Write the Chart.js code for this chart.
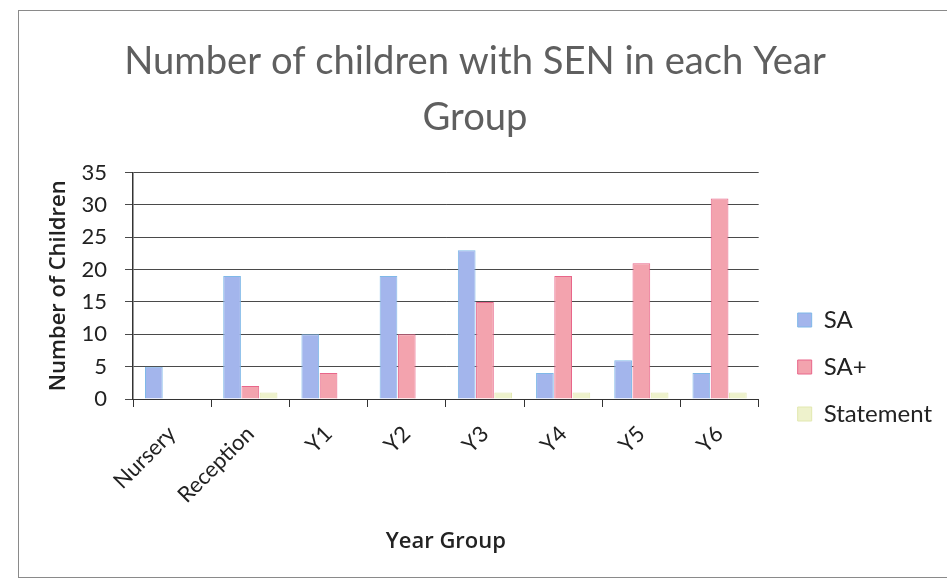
<!DOCTYPE html>
<html>
<head>
<meta charset="utf-8">
<script src="https://cdn.jsdelivr.net/npm/chart.js@4"></script>
<style>
  html, body { margin: 0; padding: 0; background: #ffffff; }
  #wrap { position: relative; width: 947px; height: 586px; }
  #frame { position: absolute; left: 18px; top: 10px; width: 940px; height: 568px; border: 1px solid #8a8a8a; box-sizing: border-box; }
  canvas { position: absolute; left: 0; top: 0; }
</style>
</head>
<body>
<div id="wrap">
  <div id="frame"></div>
  <canvas id="c" width="947" height="586"></canvas>
</div>
<script>
const categories = ['Nursery', 'Reception', 'Y1', 'Y2', 'Y3', 'Y4', 'Y5', 'Y6'];
const saValues = [5, 19, 10, 19, 23, 4, 6, 4];
const saPlusValues = [0, 2, 4, 10, 15, 19, 21, 31];
const statementValues = [0, 1, 0, 0, 1, 1, 1, 1];
const seriesNames = ['SA', 'SA+', 'Statement'];
const titleLines = ['Number of children with SEN in each Year', 'Group'];
const yTitle = 'Number of Children';
const xTitle = 'Year Group';

const FONT = 'Lato, "Open Sans", sans-serif';
const AXIS_FONT = '"Open Sans", Lato, sans-serif';

new Chart(document.getElementById('c'), {
  type: 'bar',
  data: {
    labels: categories,
    datasets: [
      { label: seriesNames[0], data: saValues, backgroundColor: '#a3b5ec', borderColor: '#7fb8e8', borderWidth: 1 },
      { label: seriesNames[1], data: saPlusValues, backgroundColor: '#f3a3ae', borderColor: '#e8668a', borderWidth: 1 },
      { label: seriesNames[2], data: statementValues, backgroundColor: '#eef2cc', borderColor: '#e2e8b0', borderWidth: 1 }
    ]
  },
  options: {
    responsive: false,
    animation: false,
    datasets: { bar: { categoryPercentage: 0.7, barPercentage: 0.97 } },
    layout: { padding: { left: 8, right: 5, top: 24, bottom: 31 } },
    plugins: {
      title: {
        display: true,
        text: titleLines,
        color: '#5f5f5f',
        font: { family: FONT, size: 38.2, weight: 'normal', lineHeight: 1.46 },
        padding: { top: 10, bottom: 27 }
      },
      legend: {
        position: 'right',
        title: { display: true, text: ' ', padding: { top: 143, bottom: 0 }, font: { size: 10 } },
        labels: {
          boxWidth: 14, boxHeight: 14, padding: 23,
          color: '#222', font: { family: FONT, size: 24 }
        }
      },
      tooltip: { enabled: false }
    },
    scales: {
      x: {
        grid: { offset: true, drawOnChartArea: false, tickLength: 8, color: '#333' },
        border: { color: '#333', width: 1 },
        ticks: { maxRotation: 45, minRotation: 45, color: '#222', font: { family: FONT, size: 22 }, padding: 14 },
        title: { display: true, text: xTitle, color: '#222', font: { family: AXIS_FONT, size: 22, weight: '600' }, padding: { top: 15, bottom: 0 } },
        afterFit: (s) => { s.height = 156; }
      },
      y: {
        min: 0, max: 35,
        ticks: { stepSize: 5, color: '#222', font: { family: FONT, size: 22 }, padding: 18 },
        grid: { color: '#4a4a4a', tickLength: 8 },
        border: { color: '#333', width: 1.5 },
        title: { display: true, text: yTitle, color: '#222', font: { family: AXIS_FONT, size: 22, weight: '600' }, padding: { top: 38, bottom: 4 } },
        afterFit: (s) => { s.width = 125; }
      },
      ySpacer: {
        type: 'linear',
        position: 'right',
        display: false,
        afterFit: (s) => { s.width = 16; }
      }
    }
  }
});
</script>
</body>
</html>
